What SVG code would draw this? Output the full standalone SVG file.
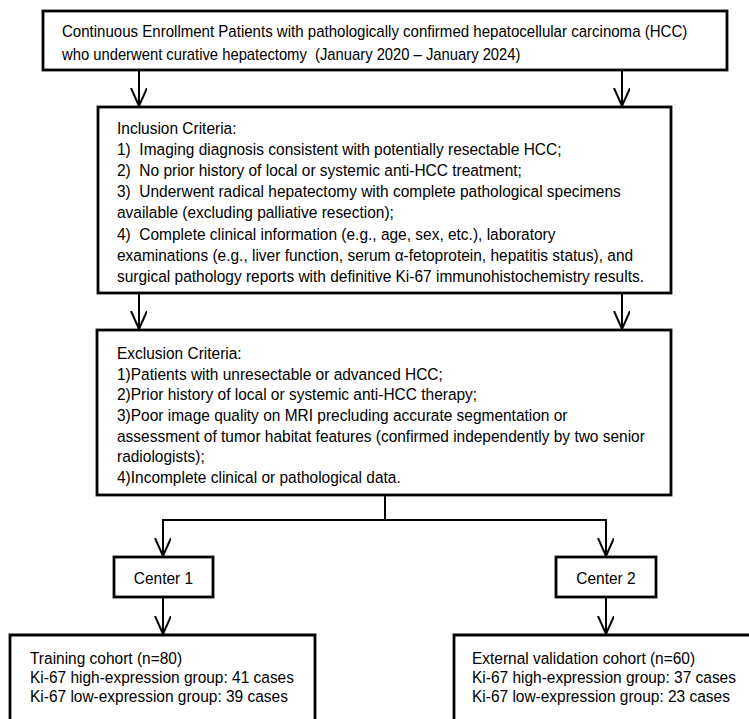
<svg xmlns="http://www.w3.org/2000/svg" width="749" height="719" viewBox="0 0 749 719">
<style>
.box{fill:#fff;stroke:#000;stroke-width:2.8}
.ln{fill:none;stroke:#000;stroke-width:2}
text{font-family:"Liberation Sans",Arial,sans-serif;font-size:17px;fill:#000}
</style>
<defs>
<marker id="ah" markerWidth="20" markerHeight="20" refX="18" refY="8" orient="auto" markerUnits="userSpaceOnUse">
<path d="M0,0 L18,8 L0,16" fill="none" stroke="#000" stroke-width="2"/>
</marker>
</defs>
<rect width="749" height="719" fill="#fff"/>
<g id="connectors">
<line class="ln" x1="139" y1="70" x2="139" y2="106" marker-end="url(#ah)"/>
<line class="ln" x1="622" y1="70" x2="622" y2="106" marker-end="url(#ah)"/>
<line class="ln" x1="139" y1="293" x2="139" y2="329" marker-end="url(#ah)"/>
<line class="ln" x1="622" y1="293" x2="622" y2="329" marker-end="url(#ah)"/>
<path class="ln" d="M385,495 V520 H163 V556" marker-end="url(#ah)"/>
<path class="ln" d="M385,520 H606 V556" marker-end="url(#ah)"/>
<line class="ln" x1="163" y1="597" x2="163" y2="634" marker-end="url(#ah)"/>
<line class="ln" x1="606" y1="597" x2="606" y2="634" marker-end="url(#ah)"/>
</g>
<g id="enrollment">
<rect class="box" x="43" y="11" width="684" height="59"/>
<g transform="translate(62,0) scale(0.885,1)">
<text x="0" y="37">Continuous Enrollment Patients with pathologically confirmed hepatocellular carcinoma (HCC)</text>
</g>
<g transform="translate(62,0) scale(0.87,1)">
<text x="0" y="60" xml:space="preserve">who underwent curative hepatectomy  (January 2020 – January 2024)</text>
</g>
</g>
<g id="inclusion">
<rect class="box" x="98" y="107" width="573" height="186"/>
<g transform="translate(117,0) scale(0.91,1)">
<text x="0" y="134">Inclusion Criteria:</text>
<text x="0" y="155" xml:space="preserve">1)  Imaging diagnosis consistent with potentially resectable HCC;</text>
<text x="0" y="176" xml:space="preserve">2)  No prior history of local or systemic anti-HCC treatment;</text>
<text x="0" y="197" xml:space="preserve">3)  Underwent radical hepatectomy with complete pathological specimens</text>
<text x="0" y="218">available (excluding palliative resection);</text>
<text x="0" y="240" xml:space="preserve">4)  Complete clinical information (e.g., age, sex, etc.), laboratory</text>
<text x="0" y="261">examinations (e.g., liver function, serum α-fetoprotein, hepatitis status), and</text>
<text x="0" y="282">surgical pathology reports with definitive Ki-67 immunohistochemistry results.</text>
</g>
</g>
<g id="exclusion">
<rect class="box" x="97" y="330" width="574" height="165"/>
<g transform="translate(117,0) scale(0.91,1)">
<text x="0" y="359">Exclusion Criteria:</text>
<text x="0" y="380">1)Patients with unresectable or advanced HCC;</text>
<text x="0" y="400">2)Prior history of local or systemic anti-HCC therapy;</text>
<text x="0" y="421">3)Poor image quality on MRI precluding accurate segmentation or</text>
<text x="0" y="442">assessment of tumor habitat features (confirmed independently by two senior</text>
<text x="0" y="462">radiologists);</text>
<text x="0" y="483">4)Incomplete clinical or pathological data.</text>
</g>
</g>
<g id="center1">
<rect class="box" x="114" y="557" width="99" height="40"/>
<g transform="translate(163.5,0) scale(0.91,1)"><text x="0" y="584" text-anchor="middle">Center 1</text></g>
</g>
<g id="center2">
<rect class="box" x="556" y="557" width="100" height="40"/>
<g transform="translate(606,0) scale(0.91,1)"><text x="0" y="584" text-anchor="middle">Center 2</text></g>
</g>
<g id="training">
<path class="box" d="M10,730 V635 H315 V730"/>
<g transform="translate(30,0) scale(0.91,1)">
<text x="0" y="664">Training cohort (n=80)</text>
<text x="0" y="683">Ki-67 high-expression group: 41 cases</text>
<text x="0" y="702">Ki-67 low-expression group: 39 cases</text>
</g>
</g>
<g id="validation">
<path class="box" d="M454,730 V635 H760"/>
<g transform="translate(472,0) scale(0.91,1)">
<text x="0" y="664">External validation cohort (n=60)</text>
<text x="0" y="683">Ki-67 high-expression group: 37 cases</text>
<text x="0" y="702">Ki-67 low-expression group: 23 cases</text>
</g>
</g>
</svg>
